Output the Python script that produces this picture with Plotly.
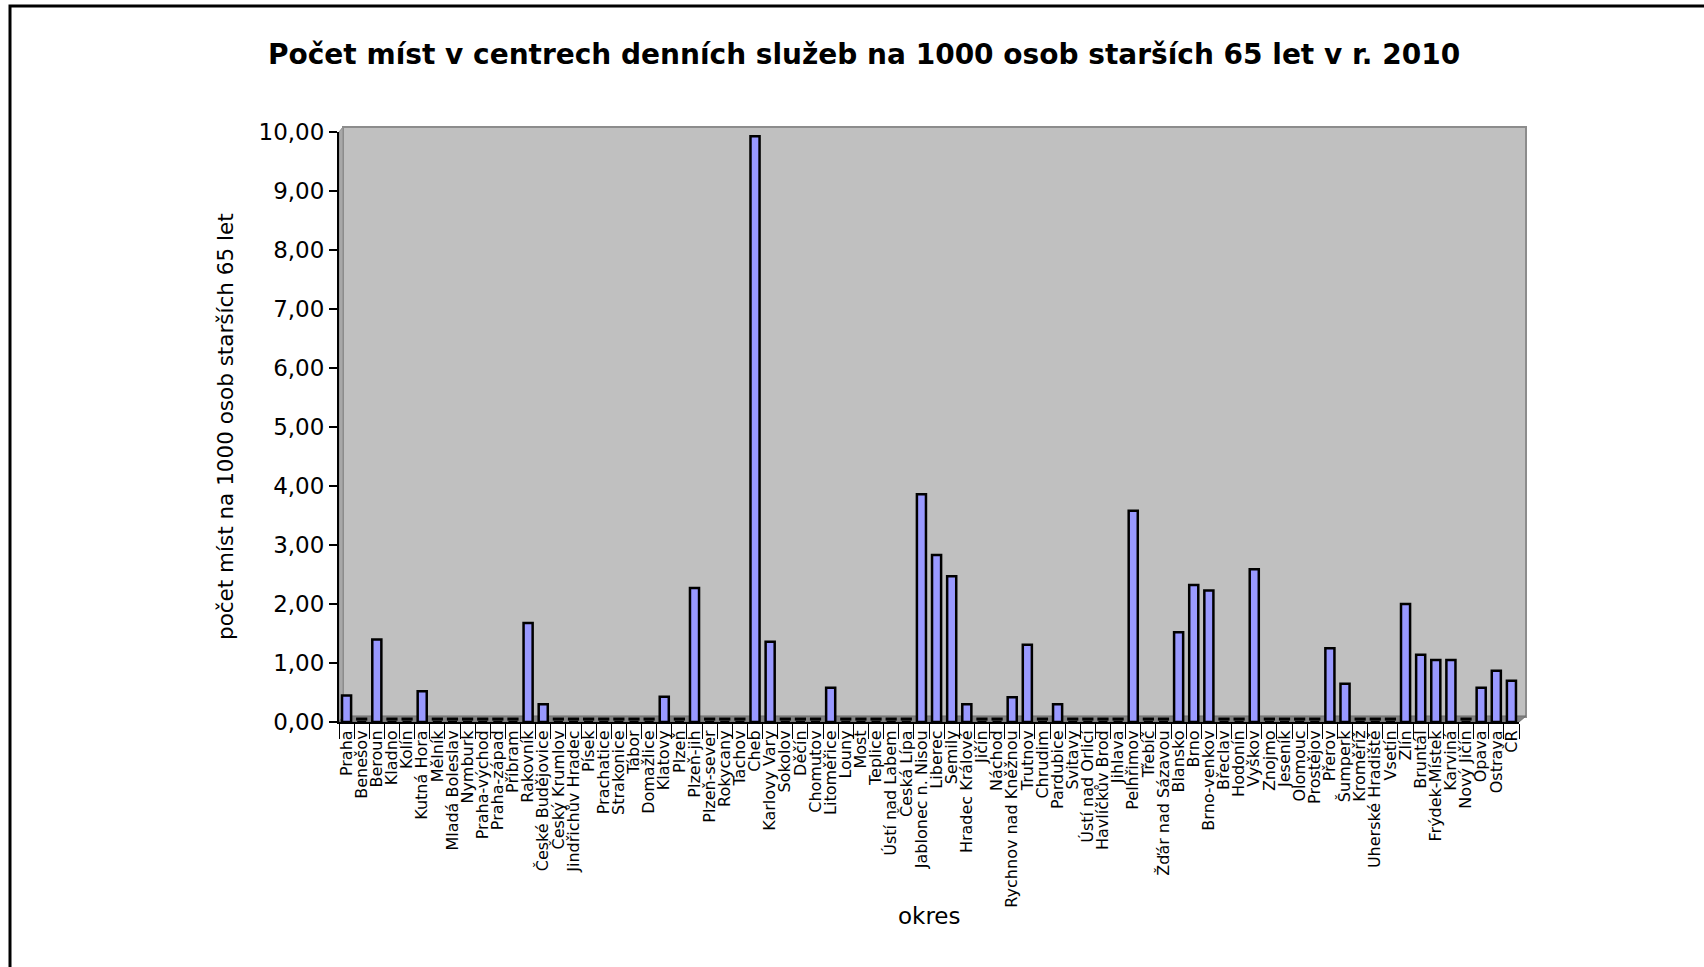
import plotly.graph_objects as go

# Okresy (districts) and the number of day-care places per 1000 inhabitants aged 65+
okresy = [
    "Praha", "Benešov", "Beroun", "Kladno", "Kolín", "Kutná Hora", "Mělník",
    "Mladá Boleslav", "Nymburk", "Praha-východ", "Praha-západ", "Příbram",
    "Rakovník", "České Budějovice", "Český Krumlov", "Jindřichův Hradec",
    "Písek", "Prachatice", "Strakonice", "Tábor", "Domažlice", "Klatovy",
    "Plzeň", "Plzeň-jih", "Plzeň-sever", "Rokycany", "Tachov", "Cheb",
    "Karlovy Vary", "Sokolov", "Děčín", "Chomutov", "Litoměřice", "Louny",
    "Most", "Teplice", "Ústí nad Labem", "Česká Lípa", "Jablonec n. Nisou",
    "Liberec", "Semily", "Hradec Králové", "Jičín", "Náchod",
    "Rychnov nad Kněžnou", "Trutnov", "Chrudim", "Pardubice", "Svitavy",
    "Ústí nad Orlicí", "Havlíčkův Brod", "Jihlava", "Pelhřimov", "Třebíč",
    "Žďár nad Sázavou", "Blansko", "Brno", "Brno-venkov", "Břeclav",
    "Hodonín", "Vyškov", "Znojmo", "Jeseník", "Olomouc", "Prostějov",
    "Přerov", "Šumperk", "Kroměříž", "Uherské Hradiště", "Vsetín", "Zlín",
    "Bruntál", "Frýdek-Místek", "Karviná", "Nový Jičín", "Opava", "Ostrava",
    "ČR",
]

hodnoty = [
    0.45, 0.00, 1.40, 0.00, 0.00, 0.52, 0.00,
    0.00, 0.00, 0.00, 0.00, 0.00,
    1.68, 0.30, 0.00, 0.00,
    0.00, 0.00, 0.00, 0.00, 0.00, 0.43,
    0.00, 2.27, 0.00, 0.00, 0.00, 9.93,
    1.36, 0.00, 0.00, 0.00, 0.58, 0.00,
    0.00, 0.00, 0.00, 0.00, 3.86,
    2.83, 2.47, 0.30, 0.00, 0.00,
    0.42, 1.31, 0.00, 0.30, 0.00,
    0.00, 0.00, 0.00, 3.58, 0.00,
    0.00, 1.52, 2.32, 2.23, 0.00,
    0.00, 2.59, 0.00, 0.00, 0.00, 0.00,
    1.25, 0.65, 0.00, 0.00, 0.00, 2.00,
    1.14, 1.05, 1.05, 0.00, 0.58, 0.87,
    0.70,
]

nadpis = "Počet míst v centrech denních služeb na 1000 osob starších 65 let v r. 2010"
osa_y = "počet míst na 1000 osob starších 65 let"
osa_x = "okres"

W, H = 1704, 967
ML, MR, MT, MB = 339, 185, 132, 245
PW, PH = W - ML - MR, H - MT - MB
FONT = "DejaVu Sans"
CAP_LIFT = 0.05  # flat caps of empty columns sit just above the floor line


def px(x):
    return (x - ML) / PW


def py(y):
    return (H - MB - y) / PH


def path(points):
    return "M " + " L ".join(f"{px(x):.5f},{py(y):.5f}" for x, y in points) + " Z"


shapes = [
    # back wall of the pseudo-3D plot area
    dict(type="rect", xref="paper", yref="paper", layer="below",
         x0=px(343), x1=px(1526), y0=py(717), y1=py(127),
         fillcolor="#C0C0C0", line=dict(color="#8C8C8C", width=2)),
    # left side wall
    dict(type="path", xref="paper", yref="paper", layer="below",
         path=path([(339, 132), (343, 127), (343, 717), (339, 722)]),
         fillcolor="#A8A8A8", line=dict(color="#8C8C8C", width=1)),
    # floor
    dict(type="path", xref="paper", yref="paper", layer="below",
         path=path([(339, 722), (343, 716), (1526, 716), (1519, 722)]),
         fillcolor="#808080", line=dict(color="#707070", width=1)),
    # outer frame
    dict(type="rect", xref="paper", yref="paper", layer="above",
         x0=px(10), x1=px(1712), y0=py(980), y1=py(6),
         fillcolor="rgba(0,0,0,0)", line=dict(color="black", width=3)),
]

nuly = [o for o, v in zip(okresy, hodnoty) if v == 0]

fig = go.Figure()
fig.add_trace(go.Bar(
    x=okresy, y=hodnoty, width=0.6,
    marker=dict(color="#9999FF", line=dict(color="black", width=2.5)),
    hovertemplate="%{x}: %{y:.2f}<extra></extra>",
))
# zero-height columns still show their flat black cap
fig.add_trace(go.Scatter(
    x=nuly, y=[CAP_LIFT] * len(nuly), mode="markers", cliponaxis=False,
    marker=dict(symbol="line-ew", size=8, line=dict(color="black", width=3)),
    hoverinfo="skip",
))

fig.update_layout(
    width=W, height=H,
    margin=dict(l=ML, r=MR, t=MT, b=MB, autoexpand=False),
    paper_bgcolor="white", plot_bgcolor="rgba(0,0,0,0)",
    separators=", ",
    showlegend=False, bargap=0.4,
    font=dict(family=FONT, color="black"),
    shapes=shapes,
    annotations=[
        dict(text=f"<b>{nadpis}</b>", xref="paper", yref="paper",
             x=px(864), y=py(54), showarrow=False,
             xanchor="center", yanchor="middle", font=dict(size=28)),
        dict(text=osa_y, xref="paper", yref="paper", textangle=-90,
             x=px(225), y=py(427), showarrow=False,
             xanchor="center", yanchor="middle", font=dict(size=21.5)),
        dict(text=osa_x, xref="paper", yref="paper",
             x=px(929), y=py(916), showarrow=False,
             xanchor="center", yanchor="middle", font=dict(size=23)),
    ],
)

fig.update_xaxes(
    type="category", categoryorder="array", categoryarray=okresy,
    range=[-0.5, len(okresy) - 0.5],
    tickmode="linear", dtick=1, tick0=0,
    tickangle=-90, tickson="boundaries",
    ticks="outside", ticklen=15, tickwidth=1, tickcolor="black",
    showline=True, linecolor="black", linewidth=2,
    showgrid=False, tickfont=dict(size=16, family=FONT),
    automargin=False,
)
fig.update_yaxes(
    range=[0, 10], dtick=1, tickformat=".2f",
    ticks="outside", ticklen=8, tickwidth=2, tickcolor="black",
    showline=True, linecolor="black", linewidth=2,
    showgrid=False, zeroline=False, tickfont=dict(size=23, family=FONT),
    automargin=False,
)

fig.write_html("out.html")
